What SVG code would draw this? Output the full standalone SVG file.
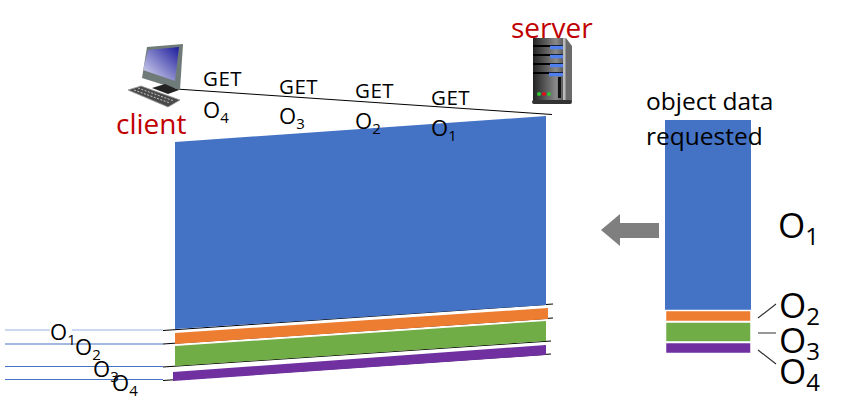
<svg xmlns="http://www.w3.org/2000/svg" width="857" height="412" viewBox="0 0 857 412">
<style>
text{font-family:"Open Sans","Noto Sans","Liberation Sans",sans-serif;fill:#000}
.g{font-size:20.500px;letter-spacing:0.500px}
.o{font-size:22px}
.s{font-size:15px}
.r{font-size:28px;fill:#c00000}
.h{font-size:24.500px}
.big{font-size:35px}
.bs{font-size:24px}
.bl{stroke:#4472c4;stroke-width:1.2;fill:none}
.k{stroke:#000;stroke-width:1;fill:none}
.t{stroke:#333;stroke-width:1.2;fill:none}
.w{stroke:#fff;stroke-width:1.5}
</style>
<defs>
<linearGradient id="scr" x1="1" y1="0" x2="0" y2="1"><stop offset="0" stop-color="#1c1c9c"/><stop offset="1" stop-color="#e4e4f6"/></linearGradient>
<linearGradient id="srv" x1="0" y1="0" x2="1" y2="0"><stop offset="0" stop-color="#222"/><stop offset="0.75" stop-color="#8a8a8a"/><stop offset="1" stop-color="#555"/></linearGradient>
</defs>
<g id="connectors">
<path class="k" d="M176 89L552 114.500"/>
<path class="bl" d="M5 330H163" stroke-opacity="0.55"/>
<path class="bl" d="M5 344H163M5 366.500H163M5 379.500H163"/>
<path class="k" d="M163 330.500L553 304M163 344L553 318M163 367L551 341M163 380.500L551 354"/>
<path class="t" d="M758 318L776 304M758 333H776M758 350L776 364"/>
</g>
<g id="flow-blocks">
<polygon fill="#4472c4" points="175,142 546,116 546,305 175,329"/>
<polygon fill="#ed7d31" points="175,333 548,308 548,319 175,344"/>
<polygon fill="#70ad47" points="175,346 546,321 546,341 175,366"/>
<polygon fill="#7030a0" points="173,372 546,345 546,355 173,381"/>
</g>
<g id="client">
<polygon fill="#6f7b78" points="147,47 183,44 180,90 142,78"/>
<polygon fill="url(#scr)" points="148,50 179,47 175,81 143,70"/>
<polygon fill="#222" points="152,88 165,84 179,90 168,94"/>
<polygon fill="#4a4a4a" stroke="#999" stroke-width="0.8" points="128,90 141,86 180,100 168,107"/>
<path d="M134 90L170 103M138 88L174 101" stroke="#ddd" stroke-width="0.8" stroke-dasharray="2 1.500"/>
<text class="r" x="116" y="134">client</text>
</g>
<g id="server">
<polygon fill="#6a6a6a" points="563,38 566,38 572,46 572,101 563,101"/>
<rect x="533" y="38" width="31" height="63" fill="url(#srv)"/>
<rect x="563" y="38" width="2.500" height="63" fill="#bbb"/>
<path d="M533 46H563M533 55H563M533 64H563M533 73H563" stroke="#000" stroke-width="2"/>
<path d="M550 47.500H563M550 56.500H563M550 65.500H563M549 74.500H563" stroke="#4f80ee" stroke-width="3.500"/>
<rect x="558" y="77" width="3" height="21" fill="#111"/>
<circle cx="539" cy="94" r="2" fill="#2fc52f"/><circle cx="544" cy="94" r="2" fill="#e0101a"/><circle cx="549" cy="94" r="2" fill="#2fc52f"/>
<rect x="532" y="100" width="40" height="4" rx="2" fill="#333"/>
<text class="r" x="511" y="38">server</text>
</g>
<g id="labels-get">
<text class="g" x="203" y="86">GET</text>
<text class="o" x="203" y="118">O<tspan class="s" dy="5">4</tspan></text>
<text class="g" x="279" y="94">GET</text>
<text class="o" x="279" y="124">O<tspan class="s" dy="5">3</tspan></text>
<text class="g" x="355" y="98">GET</text>
<text class="o" x="355" y="129">O<tspan class="s" dy="5">2</tspan></text>
<text class="g" x="431" y="105">GET</text>
<text class="o" x="431" y="136">O<tspan class="s" dy="5">1</tspan></text>
</g>
<g id="labels-received">
<rect x="50" y="326" width="22" height="8" fill="#fff"/>
<text class="o" x="50" y="340">O<tspan class="s" dy="5">1</tspan></text>
<text class="o" x="75" y="355">O<tspan class="s" dy="5">2</tspan></text>
<text class="o" x="93" y="377">O<tspan class="s" dy="5">3</tspan></text>
<text class="o" x="112" y="391">O<tspan class="s" dy="5">4</tspan></text>
</g>
<g id="arrow">
<polygon fill="#7f7f7f" points="659,223 620,223 620,214 601,230 620,246 620,238 659,238"/>
</g>
<g id="object-stack">
<rect x="665" y="120" width="86" height="190" fill="#4472c4"/>
<rect x="665.500" y="310.500" width="85.500" height="11" fill="#ed7d31" class="w"/>
<rect x="665.500" y="322" width="85.500" height="20" fill="#70ad47" class="w"/>
<rect x="665.500" y="342.500" width="85.500" height="11" fill="#7030a0" class="w"/>
<text class="h" x="646" y="110">object data</text>
<text class="h" x="646" y="145">requested</text>
</g>
<g id="labels-stack">
<text class="big" x="778" y="238">O<tspan class="bs" dy="7">1</tspan></text>
<text class="big" x="779" y="318">O<tspan class="bs" dy="7">2</tspan></text>
<text class="big" x="779" y="353">O<tspan class="bs" dy="7">3</tspan></text>
<text class="big" x="779" y="384">O<tspan class="bs" dy="7">4</tspan></text>
</g>
</svg>
